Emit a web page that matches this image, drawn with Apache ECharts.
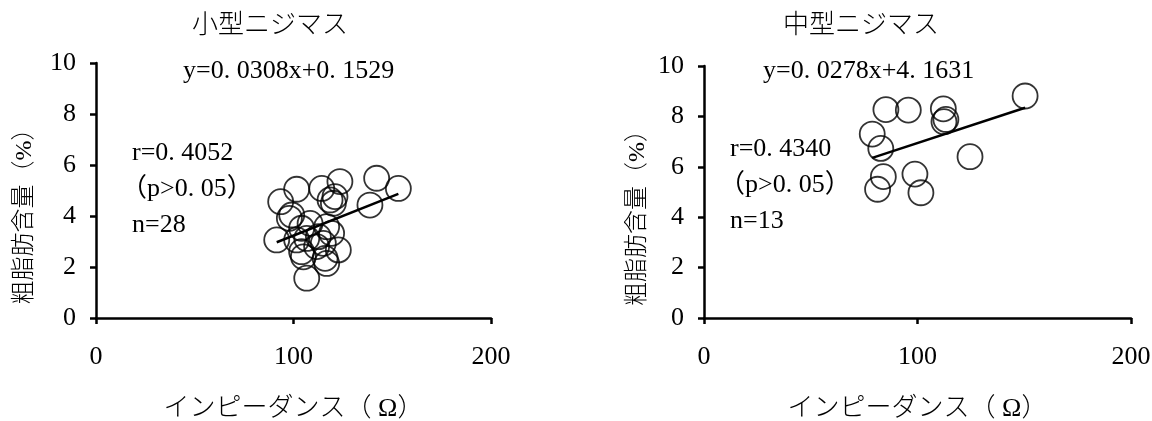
<!DOCTYPE html>
<html>
<head>
<meta charset="utf-8">
<script src="https://cdn.jsdelivr.net/npm/echarts@6/dist/echarts.min.js"></script>
<style>
html,body{margin:0;padding:0;background:#fff;}
#c{width:1152px;height:421px;}
</style>
</head>
<body>
<div id="c"></div>
<script>
// ---- data ----
const titles = ['小型ニジマス', '中型ニジマス'];
const xAxisName = 'インピーダンス（ Ω）';
const yAxisName = '粗脂肪含量（%）';

const smallX = [93.5,101.6,114.3,123.5,142.1,153.1,138.7,118.5,121.0,120.2,99.1,97.9,91.5,104.1,108.4,116.8,119.3,101.6,106.7,112.6,115.1,122.7,104.1,105.0,116.0,116.8,106.7,111.7];
const smallY = [4.56,5.05,5.08,5.35,5.48,5.08,4.43,4.63,4.76,4.50,4.04,3.91,3.06,3.52,3.71,3.58,3.32,3.06,3.12,3.19,2.93,2.67,2.60,2.40,2.34,2.14,1.56,2.80];
const smallFit = {a: 0.0308, b: 0.1529};
const smallNotes = ['y=0.0308x+0.1529', 'r=0.4052', '（p>0.05）', 'n=28'];

const midX = [150.4,85.2,95.7,112.1,113.3,112.4,78.8,82.8,124.6,84.0,98.8,81.3,101.6];
const midY = [8.81,8.27,8.25,8.30,7.88,7.79,7.30,6.73,6.40,5.61,5.71,5.11,4.97];
const midFit = {a: 0.0278, b: 4.1631};
const midNotes = ['y=0.0278x+4.1631', 'r=0.4340', '（p>0.05）', 'n=13'];

// ---- build ----
const FONT = "'Liberation Serif', 'Noto Sans CJK JP', serif";
const pairs = (xs, ys) => xs.map((x, i) => [x, ys[i]]);
const fitLine = (xs, f) => {
  const lo = Math.min(...xs), hi = Math.max(...xs);
  return [[lo, f.a * lo + f.b], [hi, f.a * hi + f.b]];
};

const grids = [
  {left: 96, right: 661, top: 63, bottom: 103, outerBoundsMode: 'none', containLabel: false},
  {left: 704, right: 21, top: 66, bottom: 103, outerBoundsMode: 'none', containLabel: false}
];

function xAx(i) {
  return {
    gridIndex: i, type: 'value', min: 0, max: 200, interval: 100,
    name: xAxisName, nameLocation: 'middle', nameGap: 78,
    nameTextStyle: {fontFamily: FONT, fontSize: 26, color: '#000', fontWeight: 300},
    axisLine: {show: true, onZero: false, lineStyle: {color: '#000', width: 2.5}},
    axisTick: {show: true, inside: false, length: 6, lineStyle: {color: '#000', width: 2.5}},
    axisLabel: {fontFamily: FONT, fontSize: 26, color: '#000', margin: 26},
    splitLine: {show: false}
  };
}
function yAx(i, gap) {
  return {
    gridIndex: i, type: 'value', min: 0, max: 10, interval: 2,
    name: yAxisName, nameLocation: 'middle', nameGap: gap, nameRotate: 90,
    nameTextStyle: {fontFamily: FONT, fontSize: 24, color: '#000', fontWeight: 300, padding: [0, 40, 0, 0]},
    axisLine: {show: true, onZero: false, lineStyle: {color: '#000', width: 2.5}},
    axisTick: {show: true, inside: false, length: 6, lineStyle: {color: '#000', width: 2.5}},
    axisLabel: {fontFamily: FONT, fontSize: 26, color: '#000', margin: 20},
    splitLine: {show: false}
  };
}

function scatter(i, xs, ys) {
  return {
    type: 'scatter', xAxisIndex: i, yAxisIndex: i, data: pairs(xs, ys),
    symbol: 'circle', symbolSize: 25, silent: true,
    itemStyle: {color: 'rgba(0,0,0,0)', borderColor: '#000', borderWidth: 1.8}
  };
}
function trend(i, xs, f) {
  return {
    type: 'line', xAxisIndex: i, yAxisIndex: i, data: fitLine(xs, f),
    showSymbol: false, silent: true, z: 3,
    lineStyle: {color: '#000', width: 2.5}
  };
}

function txt(x, y, s, size, align) {
  return {
    type: 'text', x: x, y: y, silent: true,
    style: {text: s, fontFamily: FONT, fontSize: size, fill: '#000',
            textAlign: align || 'left', textVerticalAlign: 'middle', fontWeight: 300}
  };
}
// notes: the decimal point is drawn in a half-em box, like the original's monospaced font
function note(x, y, s) {
  const size = 26;
  return {
    type: 'text', x: x, y: y, silent: true,
    style: {
      text: s.replace(/\./g, '{d|.}'),
      fontFamily: FONT, fontSize: size, fill: '#000',
      textAlign: 'left', textVerticalAlign: 'middle',
      rich: {d: {width: size * 0.5, fontFamily: FONT, fontSize: size, fill: '#000'}}
    }
  };
}

const graphics = [
  txt(270, 26, titles[0], 26, 'center'),
  txt(861, 26, titles[1], 26, 'center'),
  note(183, 71, smallNotes[0]),
  note(132, 153, smallNotes[1]),
  note(121, 189, smallNotes[2]),
  note(132, 225, smallNotes[3]),
  note(763, 71, midNotes[0]),
  note(730, 149, midNotes[1]),
  note(719, 185, midNotes[2]),
  note(730, 221, midNotes[3])
];

const chart = echarts.init(document.getElementById('c'), null, {renderer: 'canvas'});
chart.setOption({
  animation: false,
  backgroundColor: '#fff',
  grid: grids,
  xAxis: [xAx(0), xAx(1)],
  yAxis: [yAx(0, 59), yAx(1, 54)],
  series: [
    scatter(0, smallX, smallY), trend(0, smallX, smallFit),
    scatter(1, midX, midY), trend(1, midX, midFit)
  ],
  graphic: graphics
});
</script>
</body>
</html>
